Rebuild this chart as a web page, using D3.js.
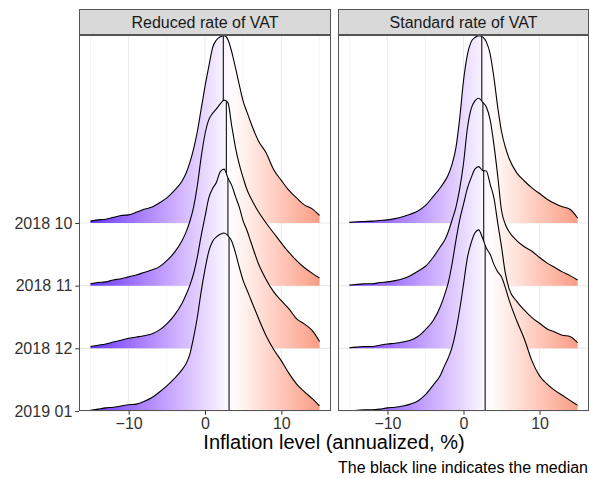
<!DOCTYPE html>
<html>
<head>
<meta charset="utf-8">
<script src="https://cdn.jsdelivr.net/npm/d3@7"></script>
<style>
  body { margin: 0; background: #fff; }
  svg { display: block; font-family: "Liberation Sans", Arial, sans-serif; }
</style>
</head>
<body>
<svg id="chart" width="590" height="478"></svg>
<script>
// --- data ---
const months = ['2018 10', '2018 11', '2018 12', '2019 01'];
const panels = ['Reduced rate of VAT', 'Standard rate of VAT'];
const xTicks = [-10, 0, 10];
const xGridLines = [-15, -10, -5, 0, 5, 10, 15];

// x positions where the density heights were read (annualized inflation, %)
const xGrid = [-15, -14, -13, -12, -11, -10, -9, -8, -7, -6, -5, -4, -3,
  -2.5, -2, -1.5, -1, -0.5, 0, 0.5, 1, 1.5, 2, 2.5, 3, 3.5, 4, 4.5, 5, 5.5, 6,
  7, 8, 9, 10, 11, 12, 13, 14, 15];

// scaled ridge heights (1 = one row step), one array per month
const reducedDensity = [
  [0.03, 0.05, 0.06, 0.09, 0.12, 0.13, 0.17, 0.22, 0.25, 0.32, 0.40, 0.52, 0.67,
   0.79, 0.96, 1.18, 1.46, 1.82, 2.18, 2.50, 2.80, 2.92, 2.97, 2.99, 2.93, 2.73, 2.47, 2.20, 1.94, 1.77, 1.60,
   1.31, 1.12, 0.85, 0.68, 0.52, 0.40, 0.29, 0.23, 0.12],
  [0.03, 0.05, 0.06, 0.09, 0.11, 0.14, 0.17, 0.21, 0.25, 0.30, 0.40, 0.53, 0.72,
   0.85, 1.02, 1.25, 1.60, 2.05, 2.42, 2.65, 2.75, 2.82, 2.90, 2.96, 2.92, 2.55, 2.20, 1.93, 1.72, 1.53, 1.40,
   1.18, 1.00, 0.84, 0.68, 0.53, 0.40, 0.29, 0.20, 0.12],
  [0.03, 0.05, 0.07, 0.10, 0.13, 0.16, 0.18, 0.20, 0.23, 0.29, 0.39, 0.53, 0.72,
   0.85, 1.00, 1.19, 1.46, 1.80, 2.10, 2.40, 2.55, 2.65, 2.82, 2.86, 2.72, 2.60, 2.42, 2.25, 2.03, 1.88, 1.70,
   1.35, 1.10, 0.90, 0.76, 0.63, 0.47, 0.39, 0.29, 0.11],
  [0.01, 0.03, 0.05, 0.06, 0.08, 0.10, 0.11, 0.15, 0.21, 0.30, 0.40, 0.52, 0.66,
   0.75, 0.90, 1.17, 1.50, 1.91, 2.26, 2.55, 2.71, 2.78, 2.82, 2.84, 2.80, 2.71, 2.52, 2.29, 2.08, 1.93, 1.78,
   1.48, 1.20, 0.98, 0.80, 0.60, 0.43, 0.31, 0.20, 0.08]
];
const standardDensity = [
  [0.01, 0.02, 0.025, 0.03, 0.04, 0.05, 0.07, 0.10, 0.14, 0.19, 0.28, 0.42, 0.57,
   0.66, 0.77, 0.94, 1.20, 1.67, 2.27, 2.68, 2.89, 2.96, 2.99, 2.97, 2.89, 2.70, 2.32, 1.85, 1.46, 1.21, 1.03,
   0.80, 0.67, 0.56, 0.47, 0.38, 0.31, 0.26, 0.22, 0.08],
  [0.01, 0.02, 0.03, 0.03, 0.05, 0.06, 0.08, 0.11, 0.16, 0.23, 0.31, 0.45, 0.63,
   0.72, 0.86, 1.05, 1.25, 1.55, 1.95, 2.50, 2.82, 2.95, 2.99, 2.93, 2.85, 2.65, 2.25, 1.75, 1.20, 0.98, 0.86,
   0.72, 0.62, 0.55, 0.45, 0.36, 0.29, 0.22, 0.16, 0.09],
  [0.01, 0.02, 0.03, 0.03, 0.05, 0.07, 0.08, 0.10, 0.13, 0.19, 0.30, 0.44, 0.68,
   0.85, 1.05, 1.35, 1.72, 2.05, 2.30, 2.55, 2.72, 2.86, 2.90, 2.84, 2.83, 2.62, 2.40, 2.00, 1.62, 1.20, 0.95,
   0.75, 0.61, 0.49, 0.40, 0.31, 0.26, 0.21, 0.19, 0.09],
  [0.00, 0.01, 0.02, 0.02, 0.03, 0.05, 0.06, 0.08, 0.11, 0.16, 0.26, 0.41, 0.58,
   0.72, 0.85, 1.02, 1.28, 1.62, 2.02, 2.44, 2.68, 2.84, 2.89, 2.76, 2.60, 2.50, 2.34, 2.22, 2.14, 1.97, 1.77,
   1.44, 1.15, 0.80, 0.56, 0.43, 0.33, 0.25, 0.17, 0.09]
];
const reducedMedian = [2.4, 2.8, 3.0, 3.15];
const standardMedian = [2.4, 2.55, 2.65, 2.85];

const densities = [reducedDensity, standardDensity];
const medians = [reducedMedian, standardMedian];

// --- layout ---
const svg = d3.select('#chart');
const panelTop = 35, panelBottom = 411, stripTop = 9;
const panelX = [[79, 331], [338, 589]];
const rowStep = (panelBottom - panelTop) / 6;

const y = d3.scalePoint().domain(months).range([panelBottom - 3 * rowStep, panelBottom]);
const hScale = d3.scaleLinear().domain([0, 1]).range([0, rowStep]);
const fillColor = d3.scaleLinear()
  .domain([-15, 3.5, 15])
  .range(['#6435ff', '#ffffff', '#f89c86'])
  .interpolate(d3.interpolateLab);

panels.forEach((name, p) => {
  const [left, right] = panelX[p];
  const x = d3.scaleLinear().domain([-16.5, 16.5]).range([left, right]);
  const g = svg.append('g');

  // clip so ridges stay inside the panel
  const clipId = `clip-${p}`;
  svg.append('clipPath').attr('id', clipId)
    .append('rect').attr('x', left).attr('y', panelTop)
    .attr('width', right - left).attr('height', panelBottom - panelTop);

  // gradient along x
  const gradId = `grad-${p}`;
  const grad = svg.append('defs').append('linearGradient')
    .attr('id', gradId)
    .attr('gradientUnits', 'userSpaceOnUse')
    .attr('x1', x(-15)).attr('x2', x(15)).attr('y1', 0).attr('y2', 0);
  d3.range(0, 1.0001, 0.025).forEach(t => {
    grad.append('stop').attr('offset', t).attr('stop-color', fillColor(-15 + 30 * t));
  });

  // grid
  g.selectAll('.vgrid').data(xGridLines).join('line')
    .attr('x1', d => x(d)).attr('x2', d => x(d))
    .attr('y1', panelTop).attr('y2', panelBottom)
    .attr('stroke', '#ebebeb')
    .attr('stroke-width', d => xTicks.includes(d) ? 1.1 : 0.55);
  g.selectAll('.hgrid').data(months).join('line')
    .attr('x1', left).attr('x2', right)
    .attr('y1', d => y(d)).attr('y2', d => y(d))
    .attr('stroke', '#ebebeb').attr('stroke-width', 1.1);

  const ridges = g.append('g').attr('clip-path', `url(#${clipId})`);

  months.forEach((m, r) => {
    const base = y(m);
    const pts = xGrid.map((v, i) => [v, densities[p][r][i]]);

    const area = d3.area()
      .x(d => x(d[0])).y0(base).y1(d => base - hScale(d[1]))
      .curve(d3.curveMonotoneX);
    const line = d3.line()
      .x(d => x(d[0])).y(d => base - hScale(d[1]))
      .curve(d3.curveMonotoneX);

    ridges.append('path').attr('d', area(pts)).attr('fill', `url(#${gradId})`);

    // median: vertical line from baseline up to the ridge
    const med = medians[p][r];
    const j = d3.bisectLeft(xGrid, med);
    const t = (med - xGrid[j - 1]) / (xGrid[j] - xGrid[j - 1]);
    const dens = densities[p][r];
    const hm = dens[j - 1] + t * (dens[j] - dens[j - 1]);
    ridges.append('line')
      .attr('x1', x(med)).attr('x2', x(med))
      .attr('y1', base).attr('y2', base - hScale(hm))
      .attr('stroke', '#222').attr('stroke-width', 1.2);

    ridges.append('path').attr('d', line(pts))
      .attr('fill', 'none').attr('stroke', '#000').attr('stroke-width', 1.1);
  });

  // panel border
  g.append('rect')
    .attr('x', left + 0.5).attr('y', panelTop + 0.5)
    .attr('width', right - left - 1).attr('height', panelBottom - panelTop - 1)
    .attr('fill', 'none').attr('stroke', '#555').attr('stroke-width', 1);

  // strip
  g.append('rect')
    .attr('x', left + 0.5).attr('y', stripTop + 0.5)
    .attr('width', right - left - 1).attr('height', panelTop - stripTop - 1)
    .attr('fill', '#d9d9d9').attr('stroke', '#555').attr('stroke-width', 1);
  g.append('text')
    .attr('x', (left + right) / 2).attr('y', (stripTop + panelTop) / 2)
    .attr('dy', '0.36em').attr('text-anchor', 'middle')
    .attr('font-size', 16).attr('fill', '#1a1a1a')
    .text(name);

  // x axis
  const xAxis = g.append('g')
    .attr('transform', `translate(0,${panelBottom})`)
    .call(d3.axisBottom(x).tickValues(xTicks).tickSize(3.7).tickPadding(2.5));
  xAxis.select('.domain').remove();
  xAxis.selectAll('line').attr('stroke', '#333');
  xAxis.selectAll('text').attr('font-size', 16).attr('fill', '#333')
    .attr('font-family', '"Liberation Sans", Arial, sans-serif');

  // y axis on the first panel only
  if (p === 0) {
    const yAxis = g.append('g')
      .attr('transform', `translate(${left},0)`)
      .call(d3.axisLeft(y).tickSize(3.7).tickPadding(3));
    yAxis.select('.domain').remove();
    yAxis.selectAll('line').attr('stroke', '#333');
    yAxis.selectAll('text').attr('font-size', 16).attr('fill', '#333')
      .attr('font-family', '"Liberation Sans", Arial, sans-serif');
  }
});

// axis title and caption
svg.append('text')
  .attr('x', (panelX[0][0] + panelX[1][1]) / 2).attr('y', 449)
  .attr('text-anchor', 'middle').attr('font-size', 20).attr('fill', '#000')
  .text('Inflation level (annualized, %)');
svg.append('text')
  .attr('x', 588).attr('y', 473)
  .attr('text-anchor', 'end').attr('font-size', 16).attr('fill', '#000')
  .text('The black line indicates the median');
</script>
</body>
</html>
